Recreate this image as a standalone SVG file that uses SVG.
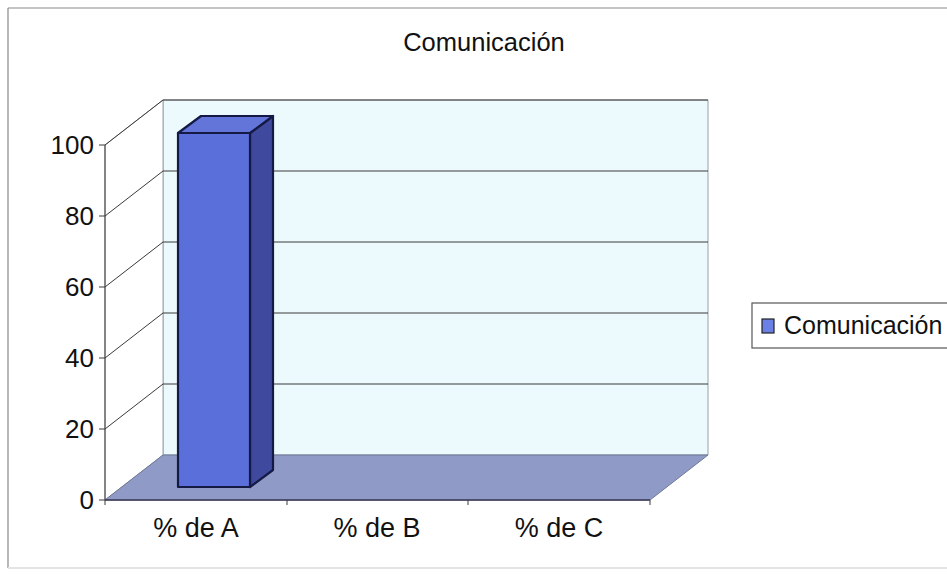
<svg xmlns="http://www.w3.org/2000/svg" width="947" height="574" viewBox="0 0 947 574">
<style>
.t{font-family:"Liberation Sans",Arial,sans-serif;fill:#111}
.grid{stroke:#3a3a3a;stroke-width:1;fill:none}
.wall{stroke:#9aa0a8;stroke-width:1}
.bar{stroke:#151a45;stroke-width:2.2;stroke-linejoin:round}
</style>
<rect x="0" y="0" width="947" height="574" fill="#ffffff"/>
<g id="frame">
<path d="M8,8 H947 M8,8 V568" stroke="#8a8a8a" stroke-width="1.2" fill="none"/>
<path d="M8,568 H947" stroke="#e4e4e4" stroke-width="2" fill="none"/>
</g>
<g id="title"><text class="t" x="484" y="51" font-size="25.5" text-anchor="middle">Comunicación</text></g>
<g id="walls">
<polygon points="163,100 708,100 708,455 163,455" fill="#edfafd" class="wall"/>
<polygon points="105,145 163,100 163,455 105,500" fill="#ffffff" class="wall"/>
<polygon points="105,500 650,500 708,455 163,455" fill="#8f9bc6" stroke="#6e7898" stroke-width="1"/>
<line x1="105" y1="500" x2="650" y2="500" stroke="#3a3a55" stroke-width="1.5"/>
</g>
<g id="gridlines" class="grid">
<path d="M105,429 L163,384 H708"/>
<path d="M105,358 L163,313 H708"/>
<path d="M105,287 L163,242 H708"/>
<path d="M105,216 L163,171 H708"/>
<path d="M105,145 L163,100 H708"/>
<path d="M105,500 V145"/>
<path d="M99,500 H105 M99,429 H105 M99,358 H105 M99,287 H105 M99,216 H105 M99,145 H105"/>
<path d="M105,500 V505 M287,500 V505 M468,500 V505 M650,500 V505"/>
</g>
<g id="yaxis-labels" class="t" font-size="26" text-anchor="end">
<text x="94" y="509">0</text>
<text x="94" y="438">20</text>
<text x="94" y="367">40</text>
<text x="94" y="296">60</text>
<text x="94" y="225">80</text>
<text x="94" y="154">100</text>
</g>
<g id="xaxis-labels" class="t" font-size="27" text-anchor="middle">
<text x="196" y="537">% de A</text>
<text x="377" y="537">% de B</text>
<text x="559" y="537">% de C</text>
</g>
<g id="bar-A">
<polygon class="bar" points="250,133 273,116 273,470 250,487" fill="#3f4a9e"/>
<polygon class="bar" points="178,133 250,133 273,116 201,116" fill="#6375d8"/>
<rect class="bar" x="178" y="133" width="72" height="354" fill="#5b6fdb"/>
</g>
<g id="legend">
<rect x="752" y="303" width="200" height="45" fill="#ffffff" stroke="#555" stroke-width="1.2"/>
<rect x="762" y="319" width="12" height="14" fill="#6b80e4" stroke="#222" stroke-width="1.2"/>
<text class="t" x="784" y="334" font-size="25">Comunicación</text>
</g>
</svg>
